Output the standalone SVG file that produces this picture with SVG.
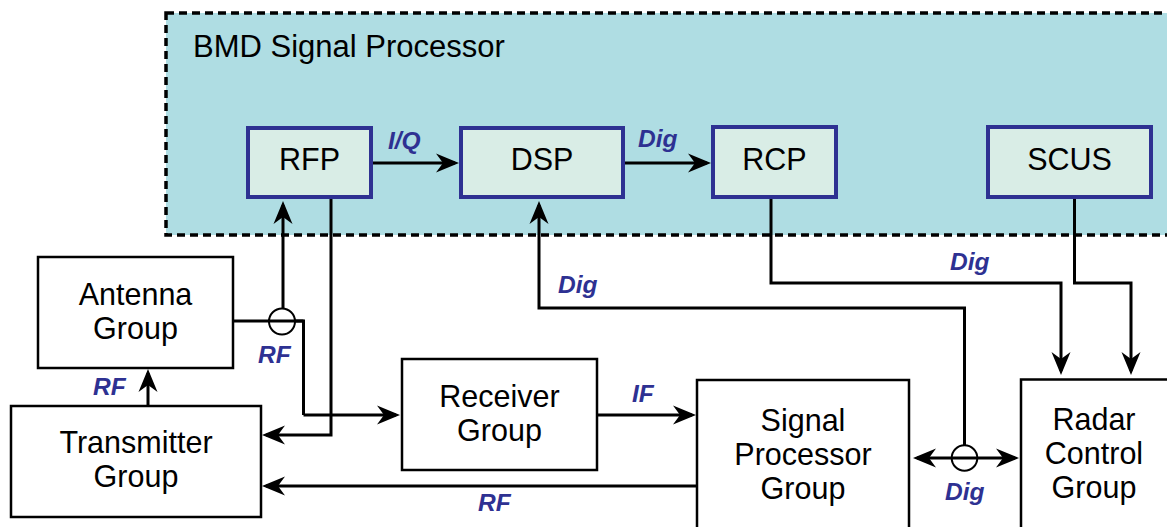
<svg xmlns="http://www.w3.org/2000/svg" width="1167" height="527" viewBox="0 0 1167 527">
<defs>
<style>
.grp{fill:#afdde3;stroke:#000;stroke-width:3.5;stroke-dasharray:8 5}
.sub{fill:#d9ede6;stroke:#2e3192;stroke-width:4}
.box{fill:#fff;stroke:#000;stroke-width:2.5}
.t{font-family:"Liberation Sans",Arial,sans-serif;font-size:30.5px;fill:#000;text-anchor:middle}
.h{font-family:"Liberation Sans",Arial,sans-serif;font-size:31px;fill:#000}
.lbl{font-family:"Liberation Sans",Arial,sans-serif;font-size:24.5px;font-weight:bold;font-style:italic;fill:#2e3192}
.c{fill:none;stroke:#000;stroke-width:3}
.a{marker-end:url(#ah)}
.hop{fill:#fff;stroke:#000;stroke-width:2}
</style>
<marker id="ah" viewBox="-26 -11 27 22" refX="-4" refY="0" markerWidth="27" markerHeight="22" markerUnits="userSpaceOnUse" orient="auto-start-reverse">
<path d="M0,0 L-23,-9.5 L-16,0 L-23,9.5 Z" fill="#000"/>
</marker>
</defs>

<g id="bmd">
<rect class="grp" x="166" y="13" width="1010" height="222"/>
<text class="h" x="193" y="57">BMD Signal Processor</text>
</g>

<g id="rfp"><rect class="sub" x="248" y="128" width="123" height="69"/><text class="t" x="309.5" y="170">RFP</text></g>
<g id="dsp"><rect class="sub" x="461" y="128" width="162" height="69"/><text class="t" x="542" y="170">DSP</text></g>
<g id="rcp"><rect class="sub" x="713" y="127" width="123" height="70"/><text class="t" x="774.5" y="170">RCP</text></g>
<g id="scus"><rect class="sub" x="988" y="127" width="163" height="70"/><text class="t" x="1069.5" y="170">SCUS</text></g>

<g id="antenna"><rect class="box" x="38" y="257" width="195" height="111"/><text class="t" x="135.5" y="305">Antenna</text><text class="t" x="135.5" y="339">Group</text></g>
<g id="transmitter"><rect class="box" x="11" y="406" width="250" height="111"/><text class="t" x="136" y="453">Transmitter</text><text class="t" x="136" y="487">Group</text></g>
<g id="receiver"><rect class="box" x="402" y="359" width="195" height="111"/><text class="t" x="499.5" y="407">Receiver</text><text class="t" x="499.5" y="441">Group</text></g>
<g id="signal-processor"><rect class="box" x="697" y="380" width="212" height="160"/><text class="t" x="803" y="431">Signal</text><text class="t" x="803" y="465">Processor</text><text class="t" x="803" y="499">Group</text></g>
<g id="radar-control"><rect class="box" x="1021" y="379.5" width="160" height="160"/><text class="t" x="1094" y="430">Radar</text><text class="t" x="1094" y="464">Control</text><text class="t" x="1094" y="498">Group</text></g>

<g id="connectors">
<path class="c a" d="M373,163 L455,163"/>
<path class="c a" d="M625,163 L707,163"/>
<path class="c a" d="M283,308 L283,205"/>
<path class="c" d="M233,321 L303.5,321 L303.5,415"/>
<path class="c a" d="M303.5,415 L396,415"/>
<circle class="hop" cx="282" cy="321.5" r="13"/>
<path class="c" d="M268,321 L303.5,321"/>
<path class="c a" d="M331,199 L331,435 L266,435"/>
<path class="c a" d="M148,406 L148,373"/>
<path class="c a" d="M697,486 L266,486"/>
<path class="c a" d="M597,415 L692,415"/>
<path class="c a" d="M964.5,445 L964.5,308 L539,308 L539,205"/>
<path class="c a" d="M771,199 L771,283 L1061,283 L1061,371"/>
<path class="c a" d="M1074.5,199 L1074.5,283 L1131,283 L1131,371"/>
<path class="c a" style="marker-start:url(#ah)" d="M917,458 L1015,458"/>
<circle class="hop" cx="964.5" cy="458" r="12.8"/>
<path class="c" d="M951,458 L978,458"/>
</g>

<g id="labels">
<text class="lbl" x="388" y="149">I/Q</text>
<text class="lbl" x="638" y="147">Dig</text>
<text class="lbl" x="558" y="293">Dig</text>
<text class="lbl" x="950" y="270">Dig</text>
<text class="lbl" x="945" y="500">Dig</text>
<text class="lbl" x="258" y="363">RF</text>
<text class="lbl" x="93" y="395">RF</text>
<text class="lbl" x="478" y="511">RF</text>
<text class="lbl" x="632" y="402">IF</text>
</g>
</svg>
